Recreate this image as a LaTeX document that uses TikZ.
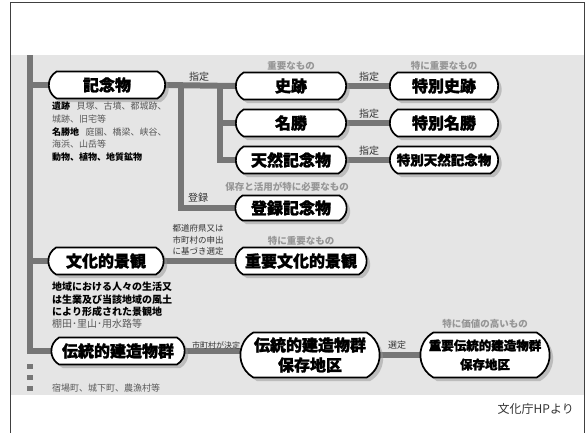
\documentclass[tikz,border=0pt]{standalone}
\usepackage{fontspec}
\setmainfont{Noto Sans CJK JP}
\newfontfamily\heavyfont{Noto Sans CJK JP}[BoldFeatures={FakeBold=1.6}]
\usetikzlibrary{shapes.misc, shadows}
\definecolor{bandGray}{RGB}{229,229,229}
\definecolor{barGray}{RGB}{118,118,118}
\definecolor{noteGray}{RGB}{150,150,150}
\pgfdeclarelayer{band}
\pgfdeclarelayer{links}
\pgfsetlayers{band,links,main}
\newcommand{\key}[1]{{\color{black}\bfseries #1}}
\tikzstyle{pill} = [rounded rectangle, rounded rectangle arc length=120, minimum height=27pt, text centered,
draw=black, line width=1.7pt, fill=white, font=\fontsize{16}{19}\selectfont\heavyfont\bfseries,
drop shadow={shadow xshift=3.5pt, shadow yshift=-3.5pt, fill=black!42}]
\tikzstyle{bar} = [line width=6pt, draw=barGray]
\tikzstyle{link} = [bar, shorten <=-3pt, shorten >=-3pt]
\tikzstyle{act} = [font=\fontsize{10}{12}\selectfont, text=black!80, inner sep=0pt]
\tikzstyle{rank} = [font=\fontsize{9.5}{11}\selectfont\bfseries, text=noteGray, inner sep=0pt]
\tikzstyle{desc} = [font=\fontsize{9}{12.6}\selectfont, align=left, inner sep=0pt, anchor=north west, text=black!65]

\begin{document}
\begin{tikzpicture}[x=1pt, y=-1pt]
    \useasboundingbox (0,0) rectangle (586,432);

    \begin{pgfonlayer}{band}
        \fill[bandGray] (10,55) rectangle (584,395);
        \draw[line width=0.8pt, black!75] (10,433) -- (10,2) -- (584,2) -- (584,433);
    \end{pgfonlayer}

    % left column
    \node (kinen) [pill, minimum width=123pt] at (107,85) {記念物};
    \node (bunkei) [pill, minimum width=122pt] at (106,261) {文化的景観};
    \node (dentou) [pill, minimum width=140pt] at (118,351) {伝統的建造物群};

    % middle column
    \node (shiseki) [pill, minimum width=117pt] at (291,86) {史跡};
    \node (meisho) [pill, minimum width=117pt] at (291,123) {名勝};
    \node (tennen) [pill, minimum width=117pt] at (291,160) {天然記念物};
    \node (touroku) [pill, minimum width=118pt, minimum height=25pt] at (291,208) {登録記念物};
    \node (juyoukei) [pill, minimum width=138pt] at (301,261) {重要文化的景観};
    \node (hozon) [pill, minimum width=146pt, minimum height=45pt, align=center,
        font=\fontsize{16}{20}\selectfont\heavyfont\bfseries] at (310,355) {伝統的建造物群\\保存地区};

    % right column
    \node (tokushi) [pill, minimum width=115pt] at (444,86) {特別史跡};
    \node (tokumei) [pill, minimum width=115pt] at (444,123) {特別名勝};
    \node (tokuten) [pill, minimum width=115pt, font=\fontsize{13.5}{16}\selectfont\heavyfont\bfseries] at (444,160) {特別天然記念物};
    \node (juyouhozon) [pill, minimum width=136pt, minimum height=45pt, align=center,
        font=\fontsize{12.5}{19}\selectfont\heavyfont\bfseries] at (485,355) {重要伝統的建造物群\\保存地区};

    % rank notes
    \node (rank1) [rank] at (291,66) {重要なもの};
    \node (rank2) [rank] at (444,66) {特に重要なもの};
    \node (rank3) [rank] at (287,187) {保存と活用が特に必要なもの};
    \node (rank4) [rank] at (301,241) {特に重要なもの};
    \node (rank5) [rank] at (485,324) {特に価値の高いもの};

    % actions
    \node (shitei0) [act] at (199,77) {指定};
    \node (toureki) [act] at (198,198) {登録};
    \node (shitei1) [act] at (369,77) {指定};
    \node (shitei2) [act] at (369,114) {指定};
    \node (shitei3) [act] at (369,151) {指定};
    \node (moushide) [act, align=center, font=\fontsize{8.5}{11.5}\selectfont] at (198,240) {都道府県又は\\市町村の申出\\に基づき選定};
    \node (kettei) [act, font=\fontsize{8}{10}\selectfont] at (216,345) {市町村が決定};
    \node (sentei) [act, font=\fontsize{9}{10}\selectfont] at (397,345) {選定};

    % descriptions
    \node (kinenDesc) [desc] at (52,102) {\key{遺跡}\hspace{0.7em}貝塚、古墳、都城跡、\\城跡、旧宅等\\
        \key{名勝地}\hspace{0.7em}庭園、橋梁、峡谷、\\海浜、山岳等\\\key{動物、植物、地質鉱物}};
    \node (bunkeiDesc) [desc, font=\fontsize{10}{12.3}\selectfont] at (52,282) {\key{地域における人々の生活又}\\
        \key{は生業及び当該地域の風土}\\\key{により形成された景観地}\\棚田･里山･用水路等};
    \node (dentouDesc) [desc, anchor=west] at (52,388) {宿場町、城下町、農漁村等};
    \node (source) [act, anchor=east, font=\fontsize{12}{14}\selectfont] at (574,409) {文化庁HPより};

    \coordinate (barTop) at (30,55);
    \coordinate (dotTop) at (30,364);
    \coordinate (barEnd) at (30,395);
    \coordinate (fork1) at (181,85);
    \coordinate (fork2) at (220,85);

    \begin{pgfonlayer}{links}
        \draw[bar, shorten >=-3pt] (barTop) |- (dentou.west);
        \draw[bar, shorten >=-3pt] (barTop |- kinen.west) -- (kinen.west);
        \draw[bar, shorten >=-3pt] (barTop |- bunkei.west) -- (bunkei.west);
        \draw[bar, dash pattern=on 5pt off 6pt] (dotTop) -- (barEnd);

        \draw[link] (kinen.east) -- (shiseki.west);
        \draw[bar, shorten >=-3pt] (fork1) |- (touroku.west);
        \draw[bar, shorten >=-3pt] (fork2) |- (tennen.west);
        \draw[bar, shorten >=-3pt] (fork2 |- meisho.west) -- (meisho.west);

        \draw[link] (shiseki.east) -- (tokushi.west);
        \draw[link] (meisho.east) -- (tokumei.west);
        \draw[link] (tennen.east) -- (tokuten.west);

        \draw[link] (bunkei.east) -- (juyoukei.west);
        \draw[link] (dentou.east) -- (dentou.east -| hozon.west);
        \draw[link] (hozon.east) -- (juyouhozon.west);
    \end{pgfonlayer}

\end{tikzpicture}
\end{document}
